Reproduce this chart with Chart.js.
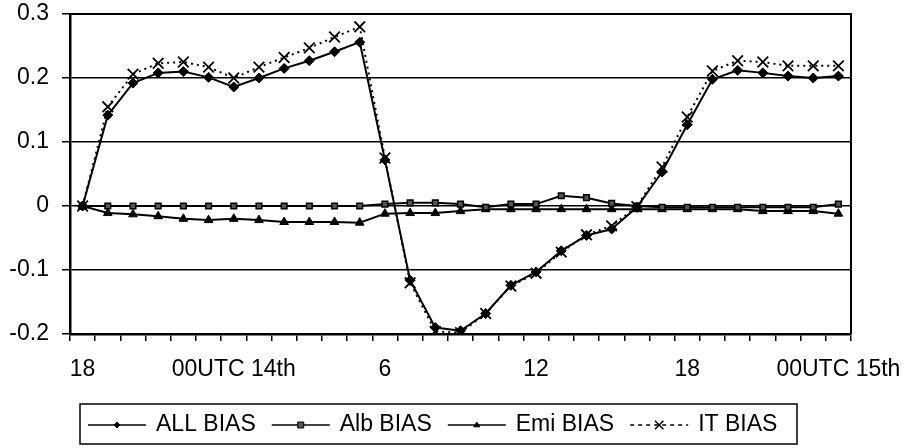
<!DOCTYPE html>
<html>
<head>
<meta charset="utf-8">
<script src="https://cdn.jsdelivr.net/npm/chart.js@4/dist/chart.umd.min.js"></script>
<style>
  html, body { margin: 0; padding: 0; background: #fff; }
  #wrap { width: 908px; height: 448px; }
</style>
</head>
<body>
<div id="wrap"><canvas id="c" width="908" height="448"></canvas></div>
<script>
// Hourly time steps, 18 UTC on the 13th through 00 UTC on the 15th
const hours = [
  "18", "19", "20", "21", "22", "23",
  "00UTC 14th", "1", "2", "3", "4", "5",
  "6", "7", "8", "9", "10", "11",
  "12", "13", "14", "15", "16", "17",
  "18", "19", "20", "21", "22", "23",
  "00UTC 15th"
];

// Bias of each component at every hour
const allBias = [
  0.000, 0.142, 0.192, 0.208, 0.210, 0.201, 0.186, 0.200, 0.215, 0.227, 0.241, 0.256,
  0.072, -0.116, -0.190, -0.195, -0.168, -0.124, -0.103, -0.070, -0.046, -0.036,
  -0.002, 0.053, 0.127, 0.198, 0.212, 0.208, 0.203, 0.200, 0.203
];
const albBias = [
  0.000, 0.000, 0.000, 0.000, 0.000, 0.000, 0.000, 0.000, 0.000, 0.000, 0.000, 0.000,
  0.003, 0.005, 0.005, 0.003, -0.002, 0.003, 0.003, 0.016, 0.013, 0.004,
  0.000, -0.002, -0.002, -0.002, -0.002, -0.002, -0.002, -0.002, 0.003
];
const emiBias = [
  0.000, -0.011, -0.013, -0.016, -0.020, -0.022, -0.020, -0.022, -0.025, -0.025, -0.025, -0.026,
  -0.012, -0.011, -0.011, -0.008, -0.005, -0.005, -0.005, -0.005, -0.005, -0.005,
  -0.005, -0.005, -0.005, -0.005, -0.005, -0.008, -0.008, -0.008, -0.012
];
const itBias = [
  0.000, 0.155, 0.206, 0.223, 0.225, 0.217, 0.200, 0.217, 0.232, 0.247, 0.264, 0.280,
  0.075, -0.120, -0.196, -0.198, -0.168, -0.125, -0.105, -0.072, -0.045, -0.031,
  -0.001, 0.061, 0.139, 0.211, 0.227, 0.225, 0.219, 0.219, 0.219
];

const seriesNames = ["ALL BIAS", "Alb BIAS", "Emi BIAS", "IT BIAS"];
const yTicks = [-0.2, -0.1, 0, 0.1, 0.2, 0.3];

const FONT = "'Liberation Sans', Arial, sans-serif";
const FONT_SIZE = 23;

// Marker painter shared by the legend
function paintMarker(ctx, style, x, y, r, fill, stroke, lw) {
  ctx.save();
  ctx.fillStyle = fill;
  ctx.strokeStyle = stroke;
  ctx.lineWidth = lw;
  ctx.beginPath();
  if (style === 'rectRot') {
    ctx.moveTo(x, y - r); ctx.lineTo(x + r, y); ctx.lineTo(x, y + r); ctx.lineTo(x - r, y); ctx.closePath();
    ctx.fill(); ctx.stroke();
  } else if (style === 'rect') {
    ctx.rect(x - r, y - r, 2 * r, 2 * r);
    ctx.fill(); ctx.stroke();
  } else if (style === 'triangle') {
    ctx.moveTo(x, y - r); ctx.lineTo(x + r, y + r * 0.6); ctx.lineTo(x - r, y + r * 0.6); ctx.closePath();
    ctx.fill(); ctx.stroke();
  } else if (style === 'crossRot') {
    const d = r * 0.7;
    ctx.moveTo(x - d, y - d); ctx.lineTo(x + d, y + d);
    ctx.moveTo(x + d, y - d); ctx.lineTo(x - d, y + d);
    ctx.stroke();
  }
  ctx.restore();
}

// Frame around the plot area and boxed legend underneath
const framePlugin = {
  id: 'frameAndLegend',
  afterDraw(chart) {
    const ctx = chart.ctx;
    const a = chart.chartArea;
    ctx.save();
    ctx.strokeStyle = '#000';
    ctx.lineWidth = 2;
    ctx.beginPath();
    ctx.moveTo(a.left, a.top); ctx.lineTo(a.right, a.top); ctx.lineTo(a.right, a.bottom);
    ctx.stroke();

    // legend
    const boxL = 80, boxT = 404, boxR = 797, boxB = 444;
    ctx.lineWidth = 1.5;
    ctx.strokeRect(boxL, boxT, boxR - boxL, boxB - boxT);
    ctx.font = FONT_SIZE + 'px ' + FONT;
    ctx.textBaseline = 'middle';
    ctx.textAlign = 'left';
    ctx.fillStyle = '#000';
    const cy = (boxT + boxB) / 2 + 1;
    const symW = 58, symGap = 10, itemGap = 16;
    let x = 88;
    chart.data.datasets.forEach(ds => {
      ctx.save();
      ctx.strokeStyle = '#000';
      ctx.lineWidth = 1.5;
      ctx.setLineDash(ds.borderDash && ds.borderDash.length ? [4, 4] : []);
      ctx.beginPath();
      ctx.moveTo(x, cy); ctx.lineTo(x + symW, cy);
      ctx.stroke();
      ctx.restore();
      paintMarker(ctx, ds.pointStyle, x + symW / 2, cy,
        ds.pointStyle === 'crossRot' ? 6 : 3,
        ds.pointBackgroundColor, '#000', ds.pointStyle === 'crossRot' ? 1.5 : 1);
      ctx.fillStyle = '#000';
      ctx.fillText(ds.label, x + symW + symGap, cy);
      x += symW + symGap + ctx.measureText(ds.label).width + itemGap;
    });
    ctx.restore();
  }
};

new Chart(document.getElementById('c'), {
  type: 'line',
  data: {
    labels: hours,
    datasets: [
      {
        label: seriesNames[0], data: allBias,
        borderColor: '#000', borderWidth: 2,
        pointStyle: 'rectRot', pointRadius: 5,
        pointBackgroundColor: '#000', pointBorderColor: '#000', pointBorderWidth: 1
      },
      {
        label: seriesNames[1], data: albBias,
        borderColor: '#000', borderWidth: 2,
        pointStyle: 'rect', pointRadius: 4,
        pointBackgroundColor: '#555', pointBorderColor: '#000', pointBorderWidth: 1.5
      },
      {
        label: seriesNames[2], data: emiBias,
        borderColor: '#000', borderWidth: 2,
        pointStyle: 'triangle', pointRadius: 5,
        pointBackgroundColor: '#000', pointBorderColor: '#000', pointBorderWidth: 1
      },
      {
        label: seriesNames[3], data: itBias,
        borderColor: '#000', borderWidth: 2, borderDash: [2, 4],
        pointStyle: 'crossRot', pointRadius: 7.5,
        pointBackgroundColor: '#000', pointBorderColor: '#000', pointBorderWidth: 1.8
      }
    ]
  },
  options: {
    responsive: false,
    animation: false,
    devicePixelRatio: 1,
    layout: { padding: { left: 0, right: 57, top: 14, bottom: 54 } },
    plugins: {
      legend: { display: false },
      tooltip: { enabled: false }
    },
    elements: { line: { tension: 0 } },
    scales: {
      x: {
        type: 'category',
        offset: true,
        afterFit(scale) {
          scale.height = 60;
          scale.paddingLeft = 0; scale.paddingRight = 0;
        },
        grid: {
          display: true, offset: true, drawOnChartArea: false, drawTicks: true,
          tickLength: 7, color: '#000', lineWidth: 1.5
        },
        border: { display: true, color: '#000', width: 2.5 },
        ticks: {
          autoSkip: false, maxRotation: 0, minRotation: 0,
          color: '#000', padding: 15,
          font: { family: FONT, size: FONT_SIZE },
          callback(value, index) { return index % 6 === 0 ? hours[index] : ''; }
        }
      },
      y: {
        min: yTicks[0], max: yTicks[yTicks.length - 1],
        afterFit(scale) {
          scale.width = 70;
          scale.paddingTop = 0; scale.paddingBottom = 0;
        },
        afterBuildTicks(scale) { scale.ticks = yTicks.map(v => ({ value: v })); },
        grid: {
          color: '#000', lineWidth: 1.5, drawTicks: true, tickLength: 8
        },
        border: { display: true, color: '#000', width: 2.5 },
        ticks: {
          color: '#000', padding: 13,
          font: { family: FONT, size: FONT_SIZE },
          callback(value) { return Math.abs(value) < 1e-9 ? '0' : value.toFixed(1); }
        }
      }
    }
  },
  plugins: [framePlugin]
});
</script>
</body>
</html>
